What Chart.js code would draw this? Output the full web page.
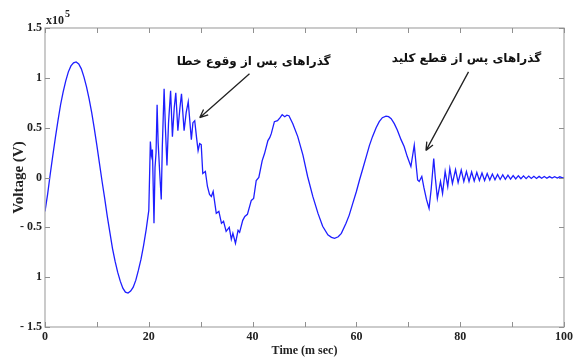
<!DOCTYPE html>
<html>
<head>
<meta charset="utf-8">
<script src="https://cdn.jsdelivr.net/npm/chart.js@4.4.1/dist/chart.umd.min.js"></script>
<style>
    html, body { margin: 0; padding: 0; background: #fff; }
    #wrap { width: 576px; height: 360px; }
</style>
</head>
<body>
<div id="wrap"><canvas id="voltChart"></canvas></div>
<script>
// time in ms, voltage in units of 1e5 V
const timeMs = [
    0, 0.5, 1, 1.5, 2, 2.5, 3, 3.5, 4, 4.5, 5, 5.5, 6, 6.5, 7, 7.5, 8, 8.5, 9, 9.5,
    10, 10.5, 11, 11.5, 12, 12.5, 13, 13.5, 14, 14.5, 15, 15.5, 16, 16.5, 17, 17.5, 18, 18.5, 19, 19.5, 20,
    20.3, 20.5, 20.7, 21, 21.2, 21.4, 21.6, 21.8, 22.1, 22.4, 22.6, 22.95, 23.2, 23.5, 23.8, 24.2, 24.55, 24.9,
    25.2, 25.6, 26, 26.3, 26.8, 27.2, 27.6, 28.2, 28.5, 28.85, 29.2, 29.5, 29.8, 30.1, 30.4, 30.9, 31.3, 31.7,
    32.05, 32.4, 33, 33.5, 34, 34.4, 34.9, 35.5, 35.9, 36.2, 36.7, 37.2, 37.5, 38.1, 38.5, 39, 39.75, 40.2,
    40.7, 41.2, 41.85, 42.3, 42.95, 43.3, 43.6, 44.2, 44.8, 45.3, 45.7, 46.2, 46.6, 47, 47.75, 48.7, 49.7,
    50.6, 51.6, 52.6, 53.5, 54.5, 55.2, 55.8, 56.5, 57.1, 58, 58.6, 59.3, 60, 60.6, 61.3, 61.9, 62.5, 63.1,
    63.8, 64.4, 65, 65.7, 66.2, 66.7, 67.3, 67.9, 68.6, 69.2, 69.8, 70.5, 71.15, 71.5, 71.8, 72.1, 72.6, 73,
    73.5, 74, 74.4, 74.9, 75.2, 75.6, 76.2, 76.6, 77.1, 77.6, 78, 78.5, 79.1, 79.6, 80.2, 80.7, 81.2, 81.7,
    82.2, 82.7, 83.2, 83.7, 84.2, 84.7, 85.2, 85.7, 86.2, 86.7, 87.2, 87.7, 88.2, 88.7, 89.2, 89.7, 90.2,
    90.7, 91.2, 91.7, 92.2, 92.7, 93.2, 93.7, 94.2, 94.7, 95.2, 95.7, 96.2, 96.7, 97.2, 97.7, 98.2, 98.7,
    99.2, 99.7, 100
];
const voltage = [
    -0.34, -0.17, 0.03, 0.22, 0.40, 0.57, 0.73, 0.86, 0.97, 1.06, 1.12, 1.15, 1.16, 1.14, 1.09, 1.01, 0.91, 0.79, 0.65, 0.49,
    0.32, 0.14, -0.04, -0.21, -0.39, -0.55, -0.71, -0.84, -0.95, -1.04, -1.11, -1.15, -1.16, -1.14, -1.10, -1.03, -0.93, -0.82, -0.68, -0.52, -0.33,
    0.36, 0.22, 0.28, -0.46, 0.10, 0.25, 0.73, 0.35, 0.05, -0.22, 0.30, 0.89, 0.50, 0.12, 0.55, 0.87, 0.41, 0.70,
    0.85, 0.47, 0.70, 0.84, 0.47, 0.65, 0.76, 0.38, 0.55, 0.57, 0.40, 0.27, 0.34, 0.33, 0.04, 0.06, -0.09, -0.17,
    -0.19, -0.14, -0.36, -0.34, -0.46, -0.44, -0.54, -0.50, -0.62, -0.56, -0.66, -0.53, -0.55, -0.43, -0.39, -0.37, -0.23, -0.21,
    -0.03, 0.00, 0.17, 0.24, 0.37, 0.40, 0.44, 0.56, 0.57, 0.60, 0.63, 0.61, 0.625, 0.62, 0.54, 0.41, 0.225,
    0.01, -0.19, -0.36, -0.49, -0.575, -0.60, -0.61, -0.595, -0.56, -0.46, -0.38, -0.26, -0.14, -0.025, 0.10, 0.21, 0.32, 0.41,
    0.50, 0.56, 0.60, 0.615, 0.61, 0.59, 0.54, 0.475, 0.38, 0.31, 0.21, 0.11, 0.325, 0.13, -0.025, -0.04, 0.01, -0.10,
    -0.22, -0.31, -0.12, 0.19, 0.00, -0.21, -0.04, -0.16, 0.06, -0.09, 0.09, -0.06, 0.08, -0.05, 0.075, -0.04, 0.06, -0.04,
    0.055, -0.035, 0.05, -0.03, 0.045, -0.03, 0.04, -0.025, 0.035, -0.022, 0.03, -0.02, 0.027, -0.018, 0.024, -0.016, 0.02,
    -0.014, 0.018, -0.012, 0.016, -0.011, 0.014, -0.01, 0.012, -0.009, 0.011, -0.008, 0.01, -0.007, 0.009, -0.006, 0.008, -0.005,
    0.007, -0.004, 0.0
];

const xTickValues = [0, 10, 20, 30, 40, 50, 60, 70, 80, 90, 100];
const yTickValues = [-1.5, -1, -0.5, 0, 0.5, 1, 1.5];
const yTickLabels = ["- 1.5", "1", "- 0.5", "0", "0.5", "1", "1.5"];

// annotations: text, text anchor (t, v), arrow start and tip (t, v)
const notes = [
    { text: "گذراهای پس از وقوع خطا", at: [40.2, 1.16], from: [39.4, 1.04], to: [29.8, 0.6] },
    { text: "گذراهای پس از قطع کلید", at: [81.2, 1.19], from: [81.6, 1.06], to: [73.4, 0.27] }
];

const serif = "'Liberation Serif', 'Times New Roman', serif";

const framePlugin = {
    id: "frame",
    afterDraw(chart) {
        const ctx = chart.ctx;
        const a = chart.chartArea;
        const xs = chart.scales.x;
        const ys = chart.scales.y;
        ctx.save();

        // box
        ctx.strokeStyle = "#a8a8a8";
        ctx.lineWidth = 1.2;
        ctx.strokeRect(a.left, a.top, a.right - a.left, a.bottom - a.top);

        // inward tick marks on all sides
        ctx.strokeStyle = "#909090";
        ctx.lineWidth = 1;
        ctx.beginPath();
        xTickValues.forEach(v => {
            const px = Math.round(xs.getPixelForValue(v)) + 0.5;
            ctx.moveTo(px, a.bottom); ctx.lineTo(px, a.bottom - 5);
            ctx.moveTo(px, a.top); ctx.lineTo(px, a.top + 5);
        });
        yTickValues.forEach(v => {
            const py = Math.round(ys.getPixelForValue(v)) + 0.5;
            ctx.moveTo(a.left, py); ctx.lineTo(a.left + 5, py);
            ctx.moveTo(a.right, py); ctx.lineTo(a.right - 5, py);
        });
        ctx.stroke();

        // exponent label
        ctx.fillStyle = "#222";
        ctx.textBaseline = "alphabetic";
        ctx.textAlign = "left";
        ctx.font = "bold 12px " + serif;
        ctx.fillText("x10", a.left + 1, a.top - 4);
        const w = ctx.measureText("x10").width;
        ctx.font = "bold 10px " + serif;
        ctx.fillText("5", a.left + 2 + w, a.top - 11);

        // y axis title
        ctx.save();
        ctx.translate(19, (a.top + a.bottom) / 2);
        ctx.rotate(-Math.PI / 2);
        ctx.font = "bold 15px " + serif;
        ctx.textAlign = "center";
        ctx.textBaseline = "middle";
        ctx.fillText("Voltage (V)", 0, 0);
        ctx.restore();

        // annotations with arrows
        notes.forEach(n => {
            ctx.font = "bold 12px 'DejaVu Sans', sans-serif";
            ctx.fillStyle = "#111";
            ctx.textAlign = "center";
            ctx.textBaseline = "middle";
            ctx.direction = "rtl";
            ctx.fillText(n.text, xs.getPixelForValue(n.at[0]), ys.getPixelForValue(n.at[1]));
            ctx.direction = "ltr";

            const x1 = xs.getPixelForValue(n.from[0]), y1 = ys.getPixelForValue(n.from[1]);
            const x2 = xs.getPixelForValue(n.to[0]), y2 = ys.getPixelForValue(n.to[1]);
            const ang = Math.atan2(y2 - y1, x2 - x1);
            ctx.strokeStyle = "#222";
            ctx.lineWidth = 1.3;
            ctx.beginPath();
            ctx.moveTo(x1, y1); ctx.lineTo(x2, y2);
            ctx.moveTo(x2, y2);
            ctx.lineTo(x2 - 9 * Math.cos(ang - 0.4), y2 - 9 * Math.sin(ang - 0.4));
            ctx.moveTo(x2, y2);
            ctx.lineTo(x2 - 9 * Math.cos(ang + 0.4), y2 - 9 * Math.sin(ang + 0.4));
            ctx.stroke();
        });
        ctx.restore();
    }
};

const points = timeMs.map((t, i) => ({ x: t, y: voltage[i] }));

new Chart(document.getElementById("voltChart"), {
    type: "line",
    data: {
        datasets: [{
            data: points,
            borderColor: "rgb(30, 30, 255)",
            borderWidth: 1.3,
            pointRadius: 0,
            tension: 0,
            fill: false
        }]
    },
    options: {
        responsive: true,
        maintainAspectRatio: false,
        animation: false,
        layout: { padding: { left: 0, right: 11, top: 28, bottom: 0 } },
        plugins: {
            legend: { display: false },
            tooltip: { enabled: false }
        },
        scales: {
            x: {
                type: "linear",
                min: 0,
                max: 100,
                afterFit: s => { s.height = 33; },
                afterBuildTicks: s => { s.ticks = xTickValues.map(v => ({ value: v })); },
                grid: { display: false, drawTicks: false },
                border: { display: false },
                ticks: {
                    padding: 3,
                    maxRotation: 0,
                    autoSkip: false,
                    color: "#222",
                    font: { family: serif, size: 12, weight: "bold" },
                    callback: v => (v % 20 === 0 ? String(v) : "")
                },
                title: {
                    display: true,
                    text: "Time (m sec)",
                    color: "#222",
                    padding: { top: 0, bottom: 2 },
                    font: { family: serif, size: 12, weight: "bold" }
                }
            },
            y: {
                type: "linear",
                min: -1.5,
                max: 1.5,
                afterFit: s => { s.width = 45; },
                afterBuildTicks: s => { s.ticks = yTickValues.map(v => ({ value: v })); },
                grid: { display: false, drawTicks: false },
                border: { display: false },
                ticks: {
                    padding: 3,
                    autoSkip: false,
                    color: "#222",
                    font: { family: serif, size: 12, weight: "bold" },
                    callback: v => yTickLabels[yTickValues.indexOf(v)]
                }
            }
        }
    },
    plugins: [framePlugin]
});
</script>
</body>
</html>
